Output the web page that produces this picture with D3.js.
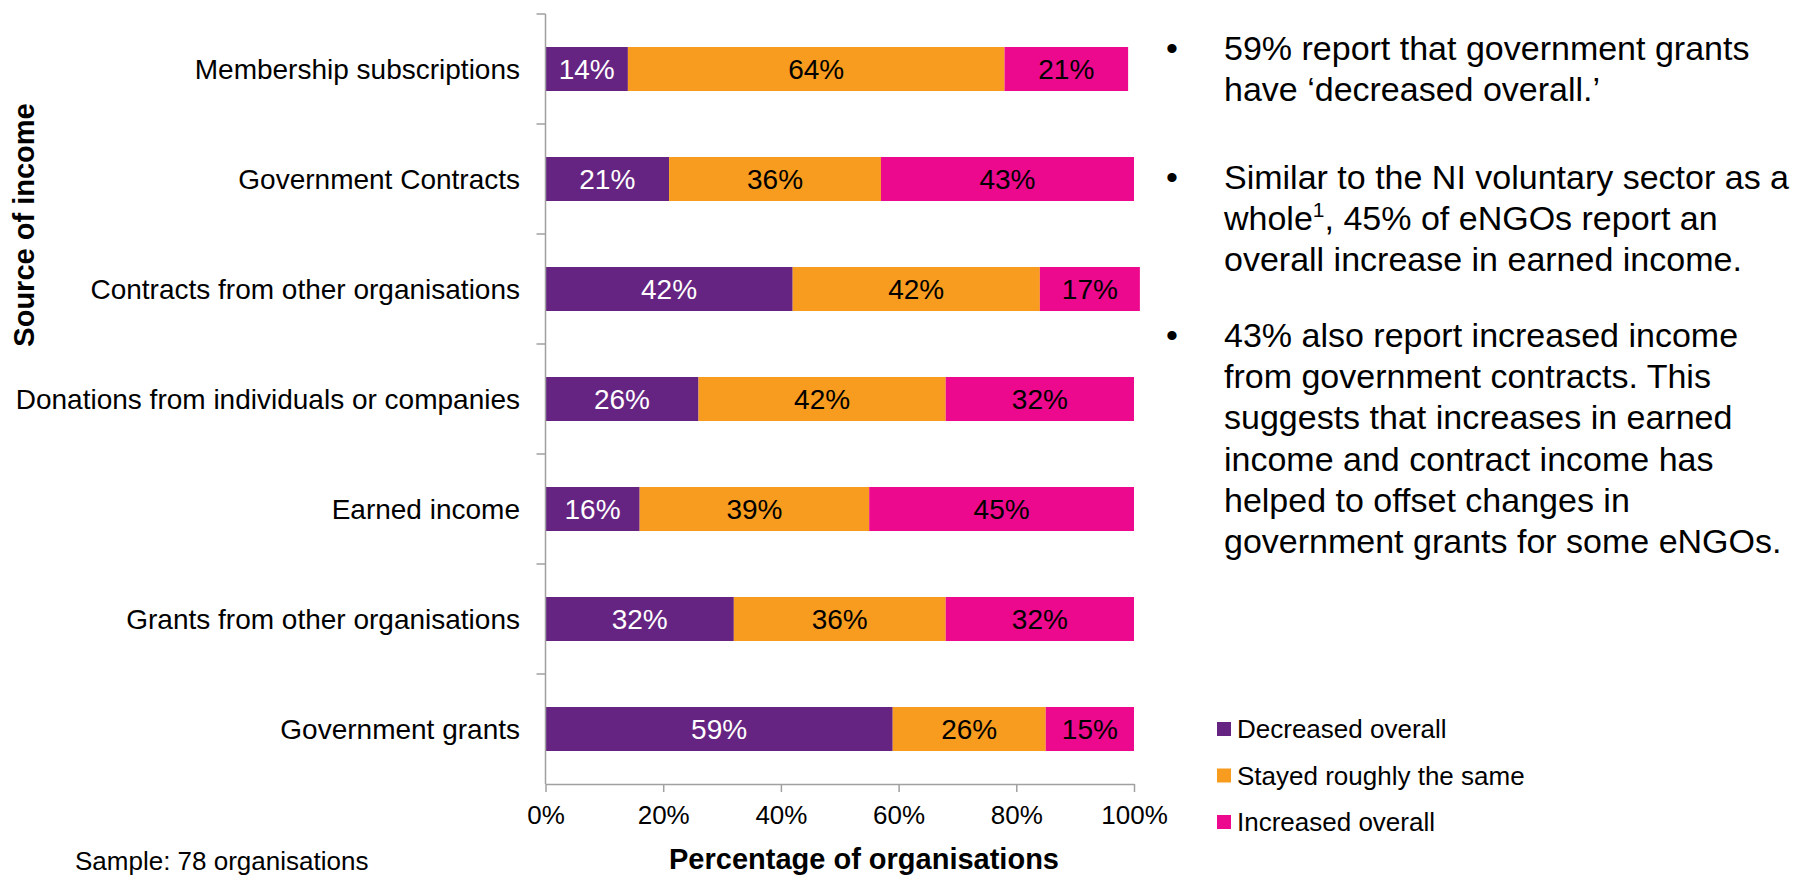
<!DOCTYPE html>
<html>
<head>
<meta charset="utf-8">
<script src="https://cdn.jsdelivr.net/npm/d3@7"></script>
<style>
  html, body { margin: 0; padding: 0; background: #ffffff; }
  svg { display: block; font-family: "Liberation Sans", Arial, sans-serif; }
</style>
</head>
<body>
<svg id="chart" width="1808" height="877"></svg>
<script>
// Sources of income, top to bottom
const categories = [
  "Membership subscriptions",
  "Government Contracts",
  "Contracts from other organisations",
  "Donations from individuals or companies",
  "Earned income",
  "Grants from other organisations",
  "Government grants"
];
// Share of organisations (%) per change in income
const decreased = [14, 21, 42, 26, 16, 32, 59];
const stayedSame = [64, 36, 42, 42, 39, 36, 26];
const increased = [21, 43, 17, 32, 45, 32, 15];

const seriesNames = ["Decreased overall", "Stayed roughly the same", "Increased overall"];
const seriesColors = ["#662482", "#F79C1E", "#EC098D"];
const labelColors = ["#ffffff", "#000000", "#000000"];
const xTicks = [0, 20, 40, 60, 80, 100];

const notes = [
  { lines: [["59% report that government grants"], ["have \u2018decreased overall.\u2019"]], y: 60 },
  { lines: [["Similar to the NI voluntary sector as a"], ["whole", {sup: "1"}, ", 45% of eNGOs report an"], ["overall increase in earned income."]], y: 189 },
  { lines: [["43% also report increased income"], ["from government contracts. This"], ["suggests that increases in earned"], ["income and contract income has"], ["helped to offset changes in"], ["government grants for some eNGOs."]], y: 347 }
];

const svg = d3.select("#chart");
const axisColor = "#A0A0A0";

const x = d3.scaleLinear().domain([0, 100]).range([545.5, 1134]);
const y = d3.scaleBand().domain(categories).range([14, 784]).paddingInner(0.6).paddingOuter(0.3);

// stacked rows
const rows = categories.map((c, i) => ({ category: c, values: [decreased[i], stayedSame[i], increased[i]] }));
const stack = d3.stack().keys([0, 1, 2]).value((d, k) => d.values[k]);
const layers = stack(rows);

const gBars = svg.append("g");
layers.forEach((layer, k) => {
  const g = gBars.append("g").attr("fill", seriesColors[k]);
  g.selectAll("rect").data(layer).join("rect")
    .attr("x", d => x(d[0]))
    .attr("y", d => y(d.data.category))
    .attr("width", d => x(d[1]) - x(d[0]))
    .attr("height", y.bandwidth());
  gBars.append("g").selectAll("text").data(layer).join("text")
    .attr("x", d => (x(d[0]) + x(d[1])) / 2)
    .attr("y", d => y(d.data.category) + y.bandwidth() / 2)
    .attr("dy", "0.36em")
    .attr("text-anchor", "middle")
    .attr("font-size", 28)
    .attr("fill", labelColors[k])
    .text(d => d.data.values[k] + "%");
});

// category axis: line with ticks between bands
const yAxis = svg.append("g");
yAxis.append("line")
  .attr("x1", x(0)).attr("x2", x(0))
  .attr("y1", y.range()[0]).attr("y2", y.range()[1])
  .attr("stroke", axisColor).attr("stroke-width", 1.5);
const boundaries = d3.range(categories.length).map(i => y.range()[0] + i * y.step());
yAxis.selectAll("line.tick").data(boundaries).join("line")
  .attr("class", "tick")
  .attr("x1", x(0) - 9).attr("x2", x(0))
  .attr("y1", d => d).attr("y2", d => d)
  .attr("stroke", axisColor).attr("stroke-width", 1.5);
yAxis.selectAll("text").data(categories).join("text")
  .attr("x", 520)
  .attr("y", d => y(d) + y.bandwidth() / 2)
  .attr("dy", "0.36em")
  .attr("text-anchor", "end")
  .attr("font-size", 28)
  .attr("fill", "#000")
  .text(d => d);

// percentage axis
const xAxis = svg.append("g").attr("transform", `translate(0,${y.range()[1]})`)
  .call(d3.axisBottom(x).tickValues(xTicks).tickFormat(d => d + "%").tickSize(8).tickSizeOuter(0).tickPadding(14));
xAxis.select(".domain").attr("stroke", axisColor).attr("stroke-width", 1.5);
xAxis.selectAll(".tick line").attr("stroke", axisColor).attr("stroke-width", 1.5);
xAxis.selectAll(".tick text").attr("font-size", 26).attr("fill", "#000")
  .attr("font-family", "Liberation Sans, Arial, sans-serif");

// axis titles
svg.append("text")
  .attr("transform", "translate(34,225) rotate(-90)")
  .attr("text-anchor", "middle")
  .attr("font-size", 29).attr("font-weight", "bold")
  .text("Source of income");
svg.append("text")
  .attr("x", 864).attr("y", 869)
  .attr("text-anchor", "middle")
  .attr("font-size", 29).attr("font-weight", "bold")
  .text("Percentage of organisations");

// sample note
svg.append("text")
  .attr("x", 75).attr("y", 870)
  .attr("font-size", 26)
  .text("Sample: 78 organisations");

// legend
const legend = svg.append("g");
seriesNames.forEach((name, k) => {
  const cy = 729 + k * 46.5;
  legend.append("rect").attr("x", 1217).attr("y", cy - 7).attr("width", 14).attr("height", 14)
    .attr("fill", seriesColors[k]);
  legend.append("text").attr("x", 1237).attr("y", cy).attr("dy", "0.36em")
    .attr("font-size", 26).text(name);
});

// commentary
const lineH = 41.2;
const notesG = svg.append("g").attr("font-size", 34);
notes.forEach(n => {
  notesG.append("text").attr("x", 1172).attr("y", n.y).attr("text-anchor", "middle").text("\u2022");
  n.lines.forEach((parts, j) => {
    const t = notesG.append("text").attr("x", 1224).attr("y", n.y + j * lineH);
    let raised = false;
    parts.forEach(p => {
      if (typeof p === "string") {
        t.append("tspan").attr("dy", raised ? 13 : null).text(p);
        raised = false;
      } else {
        t.append("tspan").attr("font-size", 21).attr("dy", -13).text(p.sup);
        raised = true;
      }
    });
  });
});
</script>
</body>
</html>
